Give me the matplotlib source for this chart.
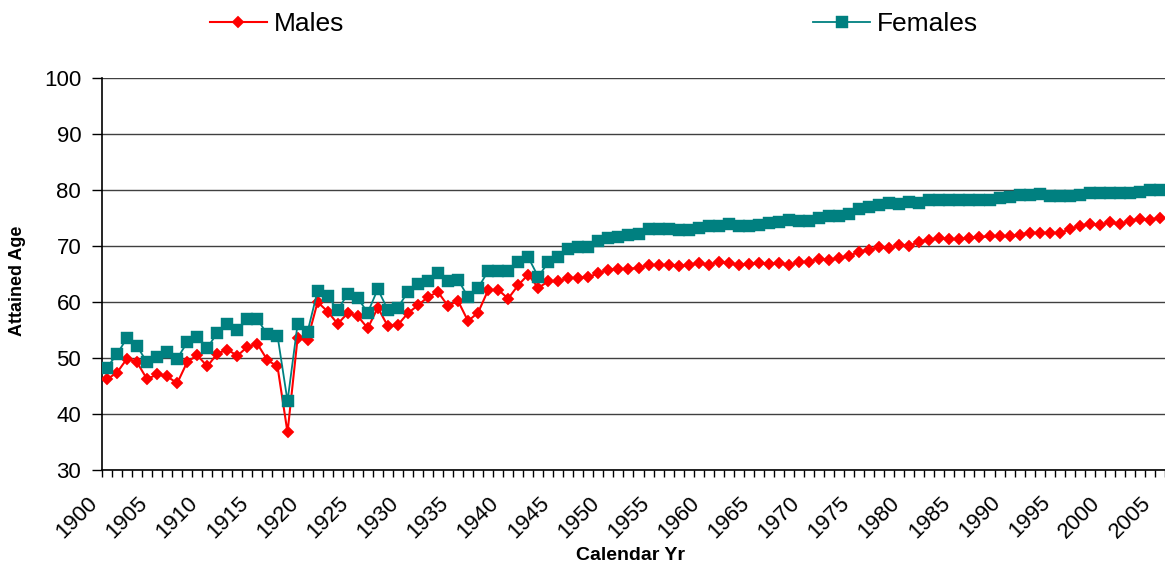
# Attained age by calendar year, males vs females.

import numpy as np
import matplotlib
matplotlib.use("Agg")
import matplotlib.pyplot as plt
from matplotlib.transforms import ScaledTranslation

plt.rcParams["font.family"] = ["Liberation Sans", "DejaVu Sans"]

years = np.arange(1900, 2006)

males = [
    46.2, 47.4, 49.9, 49.2, 46.2, 47.1, 46.7, 45.5, 49.3, 50.5,
    48.5, 50.8, 51.5, 50.4, 52.0, 52.5, 49.6, 48.5, 36.7, 53.5,
    53.3, 60.0, 58.3, 56.1, 58.0, 57.5, 55.3, 59.0, 55.7, 55.9,
    58.0, 59.4, 60.9, 61.8, 59.3, 60.2, 56.6, 58.1, 62.1, 62.2,
    60.6, 63.0, 64.9, 62.5, 63.7, 63.7, 64.3, 64.3, 64.5, 65.1,
    65.8, 65.9, 65.9, 66.1, 66.6, 66.6, 66.6, 66.4, 66.6, 66.9,
    66.6, 67.2, 66.9, 66.6, 66.8, 66.9, 66.8, 66.9, 66.6, 67.1,
    67.2, 67.7, 67.5, 67.8, 68.2, 69.0, 69.3, 69.8, 69.6, 70.2,
    70.0, 70.8, 71.1, 71.4, 71.2, 71.2, 71.4, 71.6, 71.7, 71.8,
    71.7, 72.0, 72.4, 72.3, 72.4, 72.3, 73.0, 73.6, 73.9, 73.8,
    74.2, 73.9, 74.5, 74.8, 74.7, 75.0,
]

females = [
    48.3, 50.7, 53.6, 52.1, 49.2, 50.2, 51.0, 49.9, 52.8, 53.8,
    51.8, 54.5, 56.0, 55.0, 56.9, 56.9, 54.2, 54.0, 42.3, 56.0,
    54.7, 62.0, 61.0, 58.6, 61.4, 60.7, 58.1, 62.3, 58.6, 59.0,
    61.8, 63.3, 63.7, 65.2, 63.7, 64.0, 60.9, 62.5, 65.5, 65.6,
    65.5, 67.1, 68.0, 64.5, 67.1, 68.0, 69.4, 69.9, 69.9, 70.9,
    71.4, 71.6, 71.9, 72.2, 73.1, 73.1, 73.1, 72.8, 72.9, 73.2,
    73.5, 73.6, 73.9, 73.6, 73.5, 73.8, 74.1, 74.2, 74.7, 74.4,
    74.5, 75.0, 75.3, 75.4, 75.8, 76.6, 77.0, 77.3, 77.6, 77.5,
    77.9, 77.7, 78.2, 78.2, 78.3, 78.3, 78.3, 78.3, 78.3, 78.5,
    78.8, 79.1, 79.1, 79.3, 78.9, 78.9, 78.9, 79.1, 79.5, 79.5,
    79.5, 79.5, 79.5, 79.7, 80.0, 80.0,
]

tick_years = np.arange(1900, 2006, 5)


def plot_attained_age():
    fig = plt.figure(figsize=(11.65, 5.64), dpi=100)
    ax = fig.add_axes([102 / 1165, 94 / 564, 1063 / 1165, 392 / 564])

    ax.plot(years, males, color="#FF0000", lw=1.5, marker="D", ms=6.4,
            mec="#FF0000", mew=0.3, label="Males", zorder=3)
    ax.plot(years, females, color="#008080", lw=1.3, marker="s", ms=8.5,
            mec="#008080", mew=0.3, label="Females", zorder=4)

    ax.set_xlim(1899.5, 2005.5)
    ax.set_ylim(30, 100)
    ax.set_yticks(np.arange(30, 101, 10))
    ax.yaxis.grid(True, color="#404040", lw=1.0)
    ax.set_axisbelow(True)

    for s in ["top", "right"]:
        ax.spines[s].set_visible(False)
    ax.spines["left"].set_color("black")
    ax.spines["bottom"].set_color("black")
    ax.spines["left"].set_linewidth(1.2)
    ax.spines["bottom"].set_linewidth(1.2)

    ax.tick_params(axis="y", direction="out", length=7, width=1.0, pad=8, labelsize=16)

    # category ticks between years, labels every 5 years
    ax.set_xticks(np.arange(1899.5, 2006, 1), minor=True)
    ax.set_xticks(tick_years)
    ax.set_xticklabels([str(y) for y in tick_years], rotation=45, ha="right")
    ax.tick_params(axis="x", which="minor", direction="out", length=5, width=1.0)
    ax.tick_params(axis="x", which="major", length=0, pad=16, labelsize=16)
    shift = ScaledTranslation(-5 / 100, 0, fig.dpi_scale_trans)
    for lab in ax.get_xticklabels():
        lab.set_transform(lab.get_transform() + shift)

    fig.text(630 / 1165, 1 - 555 / 564, "Calendar Yr", ha="center", va="center",
             fontsize=14, fontweight="bold")
    fig.text(17.5 / 1165, 1 - 281 / 564, "Attained Age", ha="center", va="center",
             rotation=90, fontsize=13, fontweight="bold")

    fig.legend(loc="upper center", bbox_to_anchor=(594 / 1165, 1.0), ncol=2, frameon=False,
               fontsize=19, handlelength=2.15, handletextpad=0.25, columnspacing=17.8,
               borderaxespad=0.05)

    fig.savefig("out.png", dpi=100)


if __name__ == "__main__":
    plot_attained_age()
